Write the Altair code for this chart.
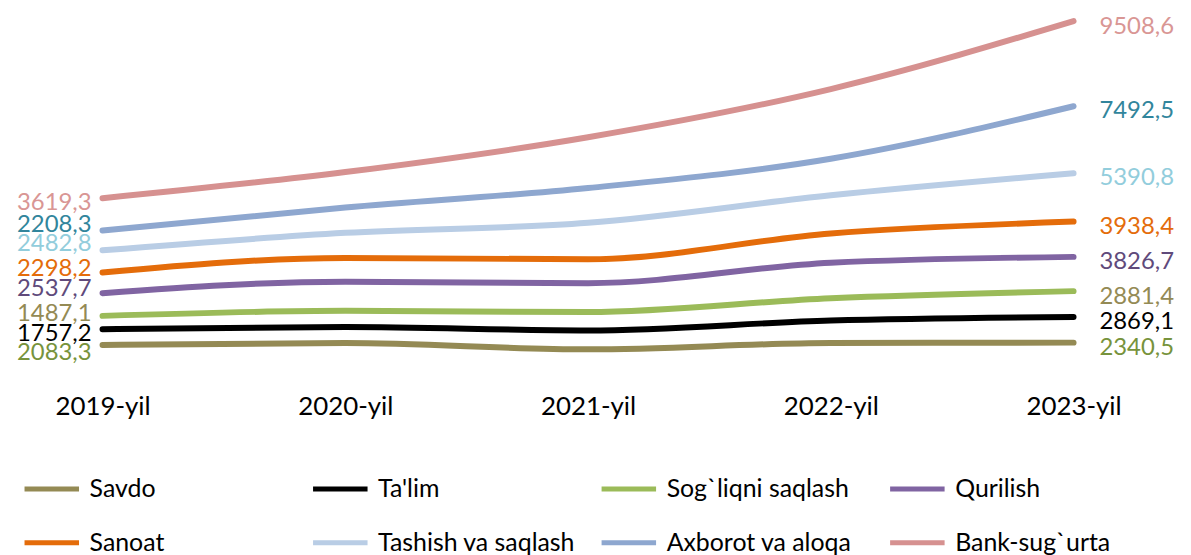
import altair as alt
import pandas as pd

# ---- data ----
years = ["2019-yil", "2020-yil", "2021-yil", "2022-yil", "2023-yil"]
sectors = ["Savdo", "Ta'lim", "Sog`liqni saqlash", "Qurilish",
           "Sanoat", "Tashish va saqlash", "Axborot va aloqa", "Bank-sug`urta"]

savdo    = [2083.3, 2300, 1590, 2300, 2340.5]
talim    = [1757.2, 1780, 2110, 2510, 2869.1]
sogliq   = [1487.1, 1810, 2050, 2490, 2881.4]
qurilish = [2537.7, 3260, 3230, 3960, 3826.7]
sanoat   = [2298.2, 2640, 2670, 3270, 3938.4]
tashish  = [2482.8, 2810, 4070, 4260, 5390.8]
axborot  = [2208.3, 2830, 3890, 4080, 7492.5]
bank     = [3619.3, 3960, 5670, 7790, 9508.6]

series = [savdo, talim, sogliq, qurilish, sanoat, tashish, axborot, bank]

# ---- styles ----
line_colors = ["#948A54", "#000000", "#9BBB59", "#8064A2",
               "#E46C0A", "#B9CDE5", "#8EA7CF", "#D69190"]
label_colors = ["#77933C", "#000000", "#948A54", "#604A7B",
                "#E46C0A", "#92CDDC", "#31859C", "#D99694"]
left_nudge = [8, 5, -2, -4, -4, -6, -6, 5]     # label de-overlap offsets (px, down)
right_nudge = [5, 5, 6, 5, 5, 5, 5, 6]
FONT = "Lato"
Y_MAX = 39000
PLOT_H = 351
PX = Y_MAX / PLOT_H   # data units per pixel, for label nudges

rows = []
for i, (name, vals) in enumerate(zip(sectors, series)):
    for j, (yr, v) in enumerate(zip(years, vals)):
        rows.append({
            "year": yr, "sector": name, "order": i, "value": v,
            "label": f"{v:.1f}".replace(".", ","),
            "labcol": label_colors[i],
            "nudge": left_nudge[i] if j == 0 else right_nudge[i],
        })
df = pd.DataFrame(rows)

base = alt.Chart(df).transform_window(
    cum="sum(value)", groupby=["year"], sort=[alt.SortField("order")],
    frame=[None, 0]
).transform_calculate(
    ly=f"datum.cum - datum.nudge * {PX}"
)

x_enc = alt.X("year:O", sort=years,
              scale=alt.Scale(type="point", padding=0),
              axis=alt.Axis(title=None, labelAngle=0, domain=False, ticks=False,
                            grid=False, labelFont=FONT, labelFontSize=26,
                            labelColor="black", labelPadding=30))
y_scale = alt.Scale(domain=[0, Y_MAX], nice=False, zero=True)
y_enc = alt.Y("cum:Q", scale=y_scale, axis=None)
ly_enc = alt.Y("ly:Q", scale=y_scale, axis=None)

lines = base.mark_line(strokeWidth=6, interpolate="monotone",
                       strokeCap="round").encode(
    x=x_enc,
    y=y_enc,
    color=alt.Color("sector:N",
                    scale=alt.Scale(domain=sectors, range=line_colors),
                    sort=sectors,
                    legend=alt.Legend(
                        title=None, orient="none", legendX=-81, legendY=447,
                        direction="horizontal", columns=4, gridAlign="all",
                        columnPadding=15, rowPadding=11,
                        symbolType="stroke", symbolSize=3000,
                        symbolStrokeWidth=5, labelOffset=8, labelLimit=400,
                        labelFont=FONT, labelFontSize=25, labelColor="black")),
    detail="sector:N",
)

left_labels = base.transform_filter(alt.datum.year == years[0]).mark_text(
    align="right", baseline="middle", dx=-11, font=FONT, fontSize=24
).encode(
    x=x_enc, y=ly_enc,
    text="label:N",
    color=alt.Color("labcol:N", scale=None),
)

right_labels = base.transform_filter(alt.datum.year == years[-1]).mark_text(
    align="left", baseline="middle", dx=26, font=FONT, fontSize=24
).encode(
    x=x_enc, y=ly_enc,
    text="label:N",
    color=alt.Color("labcol:N", scale=None),
)

chart = alt.layer(lines, left_labels, right_labels).properties(
    width=976, height=PLOT_H,
    padding={"left": 95, "top": 5, "right": 110, "bottom": 191},
    autosize=alt.AutoSizeParams(type="none"),
).configure_view(stroke=None, strokeWidth=0).configure_axis(
    grid=False, domain=False, ticks=False
)

chart.save("out.html", embed_options={"renderer": "svg", "actions": False})
